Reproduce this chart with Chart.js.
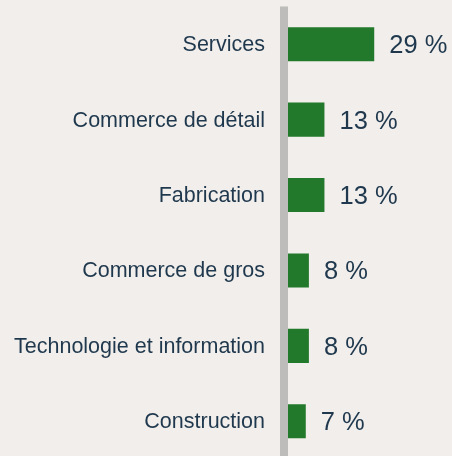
<!DOCTYPE html>
<html lang="fr">
<head>
<meta charset="utf-8">
<title>Secteurs</title>
<script src="https://cdn.jsdelivr.net/npm/chart.js@4/dist/chart.umd.min.js"></script>
<style>
  html, body { margin: 0; padding: 0; background: #f1eeeb; overflow: hidden; }
  #wrap { width: 452px; height: 456px; overflow: hidden; }
</style>
</head>
<body>
<div id="wrap"><canvas id="sectorChart" width="452" height="459"></canvas></div>
<script>
// Data
const sectors = [
  "Services",
  "Commerce de détail",
  "Fabrication",
  "Commerce de gros",
  "Technologie et information",
  "Construction",
];
const shares = [29, 13, 13, 8, 8, 7];

const textColor = "#1f384d";
const barColor = "#22792b";
const axisColor = "#bebcba";

// thick grey baseline over the start of the bars, flush with the plot area
const baseLine = {
  id: "baseLine",
  afterDatasetsDraw(chart) {
    const { ctx, chartArea } = chart;
    ctx.save();
    ctx.fillStyle = axisColor;
    ctx.fillRect(chartArea.left - 4, chartArea.top, 8, chartArea.bottom - chartArea.top);
    ctx.restore();
  },
};

// writes "29 %" etc. just past the end of each bar
const valueLabels = {
  id: "valueLabels",
  afterDatasetsDraw(chart) {
    const ctx = chart.ctx;
    const meta = chart.getDatasetMeta(0);
    ctx.save();
    ctx.font = "25.5px 'Liberation Sans', Arial, sans-serif";
    ctx.fillStyle = textColor;
    ctx.textAlign = "left";
    ctx.textBaseline = "middle";
    meta.data.forEach((bar, i) => {
      ctx.fillText(`${shares[i]} %`, bar.x + 15, bar.y + 2);
    });
    ctx.restore();
  },
};

function renderSectorChart() {
  const ctx = document.getElementById("sectorChart").getContext("2d");
  new Chart(ctx, {
    type: "bar",
    data: {
      labels: sectors,
      datasets: [
        {
          data: shares,
          backgroundColor: barColor,
          borderWidth: 0,
          categoryPercentage: 1,
          barPercentage: 0.451,
        },
      ],
    },
    options: {
      indexAxis: "y",
      responsive: false,
      animation: false,
      layout: { padding: { top: 6.5, right: 0, bottom: 0, left: 0 } },
      plugins: {
        legend: { display: false },
        tooltip: { enabled: false },
      },
      scales: {
        x: {
          display: false,
          min: 0,
          max: 54,
        },
        y: {
          grid: { display: false, drawTicks: false },
          border: { display: false },
          ticks: {
            color: textColor,
            padding: 19,
            labelOffset: 1,
            font: { family: "'Liberation Sans', Arial, sans-serif", size: 21.5 },
          },
          afterFit: (scale) => {
            // fixed label column, no extra room above/below the bars
            scale.width = 284;
            scale.paddingTop = 0;
            scale.paddingBottom = 0;
          },
        },
      },
    },
    plugins: [baseLine, valueLabels],
  });
}

renderSectorChart();
</script>
</body>
</html>
